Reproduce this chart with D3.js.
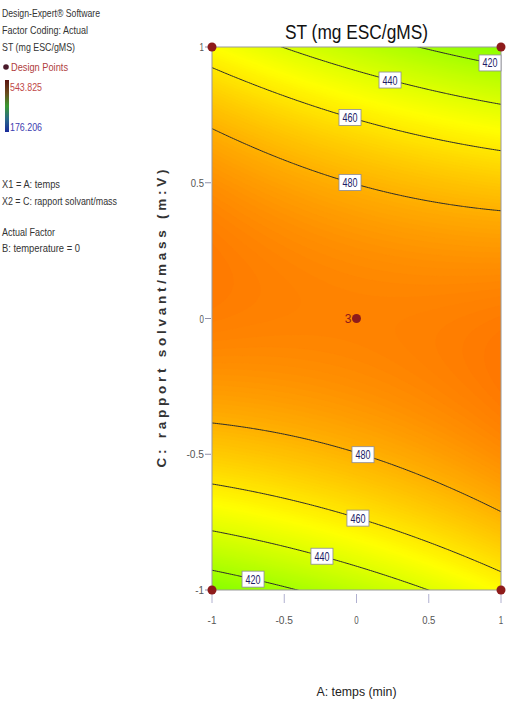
<!DOCTYPE html>
<html>
<head>
<meta charset="utf-8">
<script src="https://cdn.jsdelivr.net/npm/d3@7"></script>
<style>
  html, body { margin: 0; padding: 0; background: #fff; }
  svg { display: block; font-family: "Liberation Sans", Arial, sans-serif; }
</style>
</head>
<body>
<svg id="chart" width="508" height="706"></svg>
<script>
// ---------------- data ----------------
// fitted response-surface coefficients (coded units), terms:
const modelTerms = ["Intercept", "A", "C", "A^2", "C^2", "AC"];
const modelCoefs = [496.6, 0.45, 0, 2.15, -68, -21.4];
const responseRange = [176.206, 543.825];
const contourLevels = [420, 440, 460, 480];
// contour labels: level, A position, branch of the contour
const labelLevels = [420, 440, 460, 480, 480, 460, 440, 420];
const labelA      = [0.924, 0.232, -0.045, -0.045, 0.045, 0.010, -0.239, -0.716];
const labelBranch = ["top", "top", "top", "top", "bottom", "bottom", "bottom", "bottom"];
// design points
const designA = [-1, 1, -1, 1, 0];
const designC = [1, 1, -1, -1, 0];
const designRuns = [1, 1, 1, 1, 3];
// axis ticks
const xTicks = [-1, -0.5, 0, 0.5, 1];
const yTicks = [-1, -0.5, 0, 0.5, 1];
const tickLabels = {"-1": "-1", "-0.5": "-0.5", "0": "0", "0.5": "0.5", "1": "1"};
// header text
const headerLines = ["Design-Expert\u00AE Software", "Factor Coding: Actual", "ST (mg ESC/gMS)"];
const factorLines = ["X1 = A: temps", "X2 = C: rapport solvant/mass"];
const actualLines = ["Actual Factor", "B: temperature = 0"];
const titleText = "ST (mg ESC/gMS)";
const xTitle = "A: temps (min)";
const yTitle = "C: rapport solvant/mass (m:V)";

// ---------------- helpers ----------------
function model(a, c) {
  const b = modelCoefs;
  return b[0] + b[1]*a + b[2]*c + b[3]*a*a + b[4]*c*c + b[5]*a*c;
}
function solveC(a, v, branch) {
  const b = modelCoefs;
  const A2 = b[4], B = b[2] + b[5]*a, C0 = b[0] + b[1]*a + b[3]*a*a - v;
  const disc = Math.sqrt(B*B - 4*A2*C0);
  const r1 = (-B + disc)/(2*A2), r2 = (-B - disc)/(2*A2);
  return branch === "top" ? Math.max(r1, r2) : Math.min(r1, r2);
}

const svg = d3.select("#chart");
const x = d3.scaleLinear().domain([-1, 1]).range([212, 501]);
const y = d3.scaleLinear().domain([-1, 1]).range([590, 47]);

const t = d3.scaleLinear().domain(responseRange).range([0, 1]);
const palette = d3.scaleLinear()
  .domain([0, 0.25, 0.5, 0.75, 1])
  .range(["#0000ff", "#00ffff", "#00ff00", "#ffff00", "#ff0000"])
  .interpolate(d3.interpolateRgb);
const color = v => palette(t(v));

// ---------------- grid & contours ----------------
const ext = 1.04;
const nx = 160, ny = 300;
const values = new Array(nx*ny);
for (let j = 0; j < ny; j++) {
  const c = ext - 2*ext*(j + 0.5)/ny;
  for (let i = 0; i < nx; i++) {
    const a = -ext + 2*ext*(i + 0.5)/nx;
    values[j*nx + i] = model(a, c);
  }
}
const gx = d3.scaleLinear().domain([0, nx]).range([x(-ext), x(ext)]);
const gy = d3.scaleLinear().domain([0, ny]).range([y(ext), y(-ext)]);
const path = d3.geoPath(d3.geoTransform({
  point: function(px, py) { this.stream.point(gx(px), gy(py)); }
}));

svg.append("defs").append("clipPath").attr("id", "plotClip")
  .append("rect").attr("x", x(-1)).attr("y", y(1))
  .attr("width", x(1) - x(-1)).attr("height", y(-1) - y(1));

const plot = svg.append("g").attr("clip-path", "url(#plotClip)");
const vmin = d3.min(values);
plot.append("rect").attr("x", x(-1)).attr("y", y(1))
  .attr("width", x(1) - x(-1)).attr("height", y(-1) - y(1))
  .attr("fill", color(vmin));

const fillThresholds = d3.range(Math.floor(vmin), Math.ceil(d3.max(values)) + 1, 1);
const bands = d3.contours().size([nx, ny]).thresholds(fillThresholds)(values);
plot.selectAll("path.band").data(bands).join("path")
  .attr("class", "band")
  .attr("d", path)
  .attr("fill", d => color(d.value + 0.5))
  .attr("stroke", d => color(d.value + 0.5))
  .attr("stroke-width", 0.3);

const lines = d3.contours().size([nx, ny]).thresholds(contourLevels)(values);
plot.selectAll("path.cline").data(lines).join("path")
  .attr("class", "cline")
  .attr("d", path)
  .attr("fill", "none")
  .attr("stroke", "#2b2b2b")
  .attr("stroke-width", 1);

// plot frame
svg.append("rect").attr("x", x(-1)).attr("y", y(1))
  .attr("width", x(1) - x(-1)).attr("height", y(-1) - y(1))
  .attr("fill", "none").attr("stroke", "#9a9a9a").attr("stroke-width", 1);

// contour labels
const labels = labelLevels.map((v, k) => ({v, a: labelA[k], c: solveC(labelA[k], v, labelBranch[k])}));
const lg = svg.selectAll("g.clab").data(labels).join("g")
  .attr("class", "clab")
  .attr("transform", d => `translate(${x(d.a)},${y(d.c)})`);
lg.append("rect").attr("x", -11).attr("y", -8).attr("width", 22).attr("height", 16)
  .attr("fill", "#fff").attr("stroke", "#8a8a9a").attr("stroke-width", 0.8);
lg.append("text").attr("text-anchor", "middle").attr("y", 4.5)
  .attr("font-size", 12).attr("fill", "#1c1c66")
  .attr("textLength", 15).attr("lengthAdjust", "spacingAndGlyphs")
  .text(d => d.v);

// axes
const yAxis = svg.append("g");
yTicks.forEach(v => {
  yAxis.append("line").attr("x1", x(-1) - 7).attr("x2", x(-1) - 1)
    .attr("y1", y(v)).attr("y2", y(v)).attr("stroke", "#9090a8").attr("stroke-width", 1);
  const s = tickLabels[String(v)];
  yAxis.append("text").attr("x", x(-1) - 8).attr("y", y(v) + 4)
    .attr("text-anchor", "end").attr("font-size", 11).attr("fill", "#555")
    .attr("textLength", s.length * 4.4).attr("lengthAdjust", "spacingAndGlyphs")
    .text(s);
});
const xAxis = svg.append("g");
xTicks.forEach(v => {
  xAxis.append("line").attr("x1", x(v)).attr("x2", x(v))
    .attr("y1", y(-1) + 4).attr("y2", y(-1) + 13).attr("stroke", "#b0b0d0").attr("stroke-width", 1);
  const s = tickLabels[String(v)];
  xAxis.append("text").attr("x", x(v)).attr("y", 624)
    .attr("text-anchor", "middle").attr("font-size", 11).attr("fill", "#555")
    .attr("textLength", s.length * 4.4).attr("lengthAdjust", "spacingAndGlyphs")
    .text(s);
});

// design points
const pts = designA.map((a, k) => ({a, c: designC[k], n: designRuns[k]}));
svg.selectAll("circle.dp").data(pts).join("circle")
  .attr("class", "dp")
  .attr("cx", d => x(d.a)).attr("cy", d => y(d.c)).attr("r", 4.5)
  .attr("fill", "#8e1b1b");
svg.selectAll("text.dpn").data(pts.filter(d => d.n > 1)).join("text")
  .attr("class", "dpn")
  .attr("x", d => x(d.a) - 5).attr("y", d => y(d.c) + 4)
  .attr("text-anchor", "end").attr("font-size", 12).attr("fill", "#8e1b1b")
  .text(d => d.n);

// title
svg.append("text").attr("x", x(0)).attr("y", 39).attr("text-anchor", "middle")
  .attr("font-size", 20).attr("fill", "#111")
  .attr("textLength", 143).attr("lengthAdjust", "spacingAndGlyphs")
  .text(titleText);

// axis titles
svg.append("text").attr("x", x(0)).attr("y", 696).attr("text-anchor", "middle")
  .attr("font-size", 13).attr("fill", "#222")
  .attr("textLength", 80).attr("lengthAdjust", "spacingAndGlyphs")
  .text(xTitle);
svg.append("text").attr("transform", `translate(166,${(y(1) + y(-1))/2}) rotate(-90)`)
  .attr("text-anchor", "middle").attr("font-size", 13.5).attr("font-weight", "bold").attr("fill", "#333")
  .attr("textLength", 298).attr("lengthAdjust", "spacing")
  .text(yTitle);

// left legend block
const legend = svg.append("g");
const headerY = [13, 30, 47];
const headerW = [98, 86, 73];
headerLines.forEach((s, k) => {
  legend.append("text").attr("x", 2).attr("y", headerY[k] + 4).attr("font-size", 11).attr("fill", "#333")
    .attr("textLength", headerW[k]).attr("lengthAdjust", "spacingAndGlyphs").text(s);
});
legend.append("circle").attr("cx", 6).attr("cy", 67).attr("r", 2.8).attr("fill", "#4a1a2a");
legend.append("text").attr("x", 11).attr("y", 71).attr("font-size", 11).attr("fill", "#b04040")
  .attr("textLength", 57).attr("lengthAdjust", "spacingAndGlyphs").text("Design Points");

const grad = svg.select("defs").append("linearGradient").attr("id", "legGrad")
  .attr("x1", 0).attr("y1", 0).attr("x2", 0).attr("y2", 1);
[["0", "#5a1410"], ["0.25", "#6a4a1c"], ["0.5", "#3a9a30"], ["0.75", "#2a6a8a"], ["1", "#1a2a9a"]]
  .forEach(([o, c]) => grad.append("stop").attr("offset", o).attr("stop-color", c));
legend.append("rect").attr("x", 5).attr("y", 80).attr("width", 4).attr("height", 52)
  .attr("fill", "url(#legGrad)");
legend.append("text").attr("x", 10).attr("y", 91).attr("font-size", 11).attr("fill", "#c04848")
  .attr("textLength", 32).attr("lengthAdjust", "spacingAndGlyphs").text(responseRange[1].toFixed(3));
legend.append("text").attr("x", 10).attr("y", 131).attr("font-size", 11).attr("fill", "#3c3cb0")
  .attr("textLength", 32).attr("lengthAdjust", "spacingAndGlyphs").text(responseRange[0].toFixed(3));

const factorY = [184, 201];
const factorW = [58, 115];
factorLines.forEach((s, k) => {
  legend.append("text").attr("x", 2).attr("y", factorY[k] + 4).attr("font-size", 11).attr("fill", "#333")
    .attr("textLength", factorW[k]).attr("lengthAdjust", "spacingAndGlyphs").text(s);
});
const actualY = [232, 248];
const actualW = [53, 78];
actualLines.forEach((s, k) => {
  legend.append("text").attr("x", 2).attr("y", actualY[k] + 4).attr("font-size", 11).attr("fill", "#333")
    .attr("textLength", actualW[k]).attr("lengthAdjust", "spacingAndGlyphs").text(s);
});
</script>
</body>
</html>
